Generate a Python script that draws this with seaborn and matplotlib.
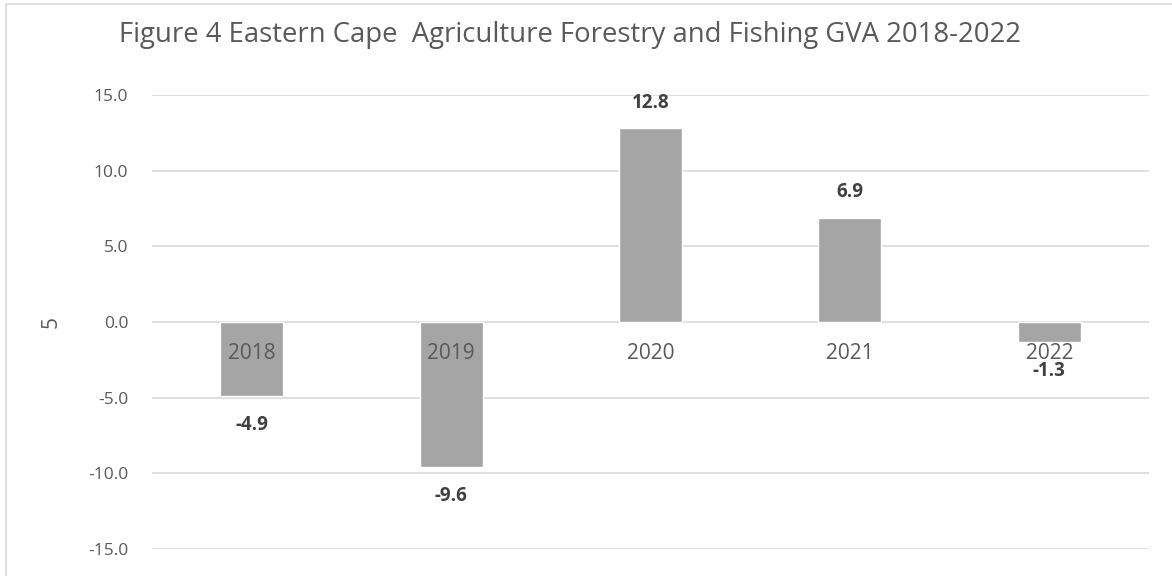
import matplotlib
matplotlib.use("Agg")
import matplotlib.pyplot as plt
import seaborn as sns
import pandas as pd
from matplotlib.lines import Line2D

years = ["2018", "2019", "2020", "2021", "2022"]
values = [-4.9, -9.6, 12.8, 6.9, -1.3]
yticks = [-15.0, -10.0, -5.0, 0.0, 5.0, 10.0, 15.0]
title = "Figure 4 Eastern Cape  Agriculture Forestry and Fishing GVA 2018-2022"
ylabel = "5"

sns.set_theme(style="white")
plt.rcParams["font.family"] = ["Open Sans", "DejaVu Sans"]

df = pd.DataFrame({"year": years, "value": values})

W, H = 1172, 576
fig = plt.figure(figsize=(W/100, H/100), dpi=100)
ax = fig.add_axes([152/W, 1-549/H, (1149-152)/W, (549-95)/H])

sns.barplot(data=df, x="year", y="value", color="#A5A5A5", saturation=1,
            width=0.315, ax=ax, zorder=3)

ax.set_ylim(-15, 15)
ax.set_yticks(yticks)
ax.set_yticklabels([f"{t:.1f}" for t in yticks], fontsize=12.5, color="#595959")
ax.yaxis.grid(True, color="#D9D9D9", linewidth=1.2, zorder=0)
ax.set_axisbelow(True)
for s in ax.spines.values():
    s.set_visible(False)
ax.tick_params(axis="y", length=0, pad=17)
ax.set_xticks([])
ax.set_xlabel("")
ax.set_ylabel(ylabel, fontsize=15, color="#595959")
ax.yaxis.set_label_coords((62-152)/(1149-152), 0.5)

for i, yr in enumerate(years):
    ax.annotate(yr, (i, 0), xytext=(0, -22.5), textcoords="offset points",
                ha="center", va="center", fontsize=15, color="#595959", zorder=5)

for i, v in enumerate(values):
    if v >= 0:
        ax.annotate(f"{v:.1f}", (i, v), xytext=(0, 18.5), textcoords="offset points",
                    ha="center", va="center", fontsize=13.5, fontweight="bold", color="#404040")
    else:
        ax.annotate(f"{v:.1f}", (i, v), xytext=(0, -21), textcoords="offset points",
                    ha="center", va="center", fontsize=13.5, fontweight="bold", color="#404040")

fig.text(570/W, 1-35/H, title, ha="center", va="center", fontsize=19.8, color="#595959")

# figure border (left and top)
fig.add_artist(Line2D([6/W, 6/W], [0, 1-4/H], color="#D9D9D9", linewidth=1.2))
fig.add_artist(Line2D([6/W, 1], [1-4/H, 1-4/H], color="#D9D9D9", linewidth=1.2))

fig.savefig("out.png", dpi=100)
